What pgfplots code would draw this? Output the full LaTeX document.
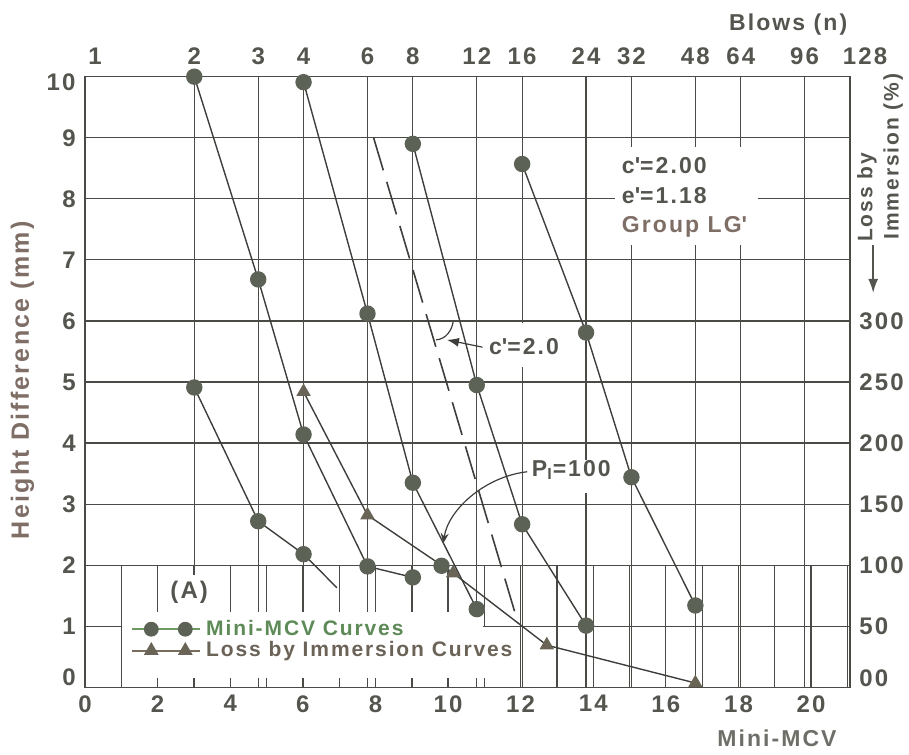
\documentclass[border=0pt]{standalone}
\usepackage{fontspec}
\setmainfont{Liberation Sans}[LetterSpace=9]
\usepackage{pgfplots}
\pgfplotsset{compat=1.18}
\usetikzlibrary{arrows.meta}
\definecolor{gridc}{HTML}{4A4A46}
\definecolor{linec}{HTML}{3E3E3B}
\definecolor{circc}{HTML}{5C6356}
\definecolor{tric}{HTML}{6A6457}
\definecolor{txtc}{HTML}{55554F}
\definecolor{brownc}{HTML}{7E6E66}
\definecolor{greent}{HTML}{5E8A58}
\definecolor{greenl}{HTML}{6E9A62}
\definecolor{legbrown}{HTML}{6B6358}
\definecolor{legline}{HTML}{7A6C5C}
\newcommand\fs[1]{\fontsize{#1}{#1}\selectfont\bfseries}
\begin{document}
\begin{tikzpicture}
\begin{axis}[name=ax,
  scale only axis, width=382.5pt, height=305.3pt,
  xmin=0, xmax=21.0721, ymin=0, ymax=10,
  axis line style={draw=gridc, line width=0.6pt},
  xtick={0,2,...,20}, ytick={0,1,...,10},
  yticklabels={\raisebox{5pt}[\height][0pt]{0},1,2,3,4,5,6,7,8,9,\raisebox{-2.5pt}[\height][0pt]{10}},
  major tick length=0pt,
  /pgf/number format/assume math mode=true,
  tick label style={font=\fs{12}, text=txtc},
  xticklabel style={inner sep=0pt, yshift=-3.85pt},
  yticklabel style={inner sep=0pt, xshift=-4.5pt},
  clip=false,
  legend style={at={(axis cs:1.267,1.107)}, anchor=north west, draw=none, fill=none,
    inner sep=0pt, font=\fs{10.5}, row sep=1.6pt, nodes={inner sep=0pt},
    /tikz/every odd column/.style={column sep=2.5pt}},
  legend cell align=left,
  legend image code/.code={\draw[#1,mark=none] (0pt,0pt) -- (34pt,0pt);
     \path[#1] plot coordinates {(9.5pt,0pt) (26.5pt,0pt)};},
]
% grid lines
\pgfplotsinvokeforeach{1,...,9}{\draw[gridc,line width=0.6pt] (axis cs:0,#1) -- (axis cs:21.0721,#1);}
\pgfplotsinvokeforeach{3.0103,4.7712,6.0206,7.7815,9.0309,10.7918,12.0412,13.8021,15.0515,16.8124,18.0618,19.8227}{\draw[gridc,line width=0.6pt] (axis cs:#1,0) -- (axis cs:#1,10);}
\pgfplotsinvokeforeach{1,...,21}{\draw[gridc,line width=0.6pt] (axis cs:#1,0) -- (axis cs:#1,2);}
% masks
\fill[white] (axis cs:1.03,0.15) rectangle (axis cs:10.96,1.23);
\fill[white] (axis cs:10.9,0.15) rectangle (axis cs:11.6,0.98);
\fill[white] (axis cs:2.2,1.23) rectangle (axis cs:3.5,1.84);
\fill[white] (axis cs:14.6,7.25) rectangle (axis cs:18.55,8.85);
\fill[white] (axis cs:11.1,5.25) rectangle (axis cs:13.3,5.97);
\fill[white] (axis cs:12.3,3.18) rectangle (axis cs:14.6,3.72);
% legend images
\addlegendimage{color=greenl, line width=0.9pt, mark=*, mark size=3.25pt, mark options={fill=circc, draw=circc}}
\addlegendentry{\textcolor{greent}{Mini-MCV Curves}}
\addlegendimage{color=legline, line width=0.9pt, mark=triangle*, mark size=3.4pt, mark options={fill=tric, draw=tric}}
\addlegendentry{\textcolor{legbrown}{Loss by Immersion Curves}}
% dashed reference line c'=2.0
\addplot[linec, line width=0.8pt, dash pattern=on 17pt off 6pt, forget plot] coordinates {(7.95,9.0) (11.93,1.05)};
% loss by immersion curve
\addplot[linec, line width=0.7pt, mark=triangle*, mark size=3.5pt, mark options={fill=tric, draw=tric, solid}, forget plot]
  coordinates {(6.0206,4.84) (7.7815,2.82) (10.14,1.87) (12.72,0.69) (16.8124,0.07)};
% mini-MCV curves
\pgfplotsset{mcv/.style={linec, line width=0.7pt, mark=*, mark size=3.75pt, mark options={fill=circc, draw=circc}, forget plot}}
\addplot[mcv] coordinates {(3.0103,10) (4.7712,6.68) (6.0206,4.14) (7.7815,1.98) (9.0309,1.80)};
\addplot[mcv, mark indices={1,2,3}] coordinates {(3.0103,4.91) (4.7712,2.72) (6.0206,2.18) (6.94,1.63)};
\addplot[mcv] coordinates {(6.0206,9.91) (7.7815,6.12) (9.0309,3.35) (10.7918,1.28)};
\addplot[mcv] coordinates {(9.0309,8.90) (10.7918,4.95) (12.0412,2.67) (13.8021,1.01)};
\addplot[mcv] coordinates {(12.0412,8.57) (13.8021,5.81) (15.0515,3.44) (16.8124,1.34)};
\addplot[mcv, only marks] coordinates {(9.82,1.99)};
% annotations
\node[anchor=center, font=\fs{12}, text=txtc] at (axis cs:2.87,1.56) {(A)};
\node[anchor=west, inner sep=0pt, font=\fs{11.5}, text=txtc] at (axis cs:14.78,8.55) {c\textquotesingle=2.00};
\node[anchor=west, inner sep=0pt, font=\fs{11.5}, text=txtc] at (axis cs:14.78,8.06) {e\textquotesingle=1.18};
\node[anchor=west, inner sep=0pt, font=\fs{11.5}, text=brownc] at (axis cs:14.78,7.54) {Group LG\textquotesingle};
\node[anchor=west, inner sep=0pt, font=\fs{11.5}, text=txtc] at (axis cs:11.12,5.58) {c\textquotesingle=2.0};
\node[anchor=west, inner sep=0pt, font=\fs{11.5}, text=txtc] at (axis cs:12.3,3.56) {P\textsubscript{I}=100};
\draw[linec, line width=0.6pt, -{Latex[length=6pt,width=4.5pt]}] (axis cs:10.95,5.57) -- (axis cs:9.97,5.69);
\draw[linec, line width=0.6pt] (axis cs:9.67,5.69) .. controls (axis cs:9.95,5.7) and (axis cs:10.1,5.85) .. (axis cs:10.14,5.98);
\draw[linec, line width=0.6pt, -{Stealth[length=5pt,width=4pt]}] (axis cs:12.18,3.53) .. controls (axis cs:11.0,3.45) and (axis cs:10.0,2.9) .. (axis cs:9.87,2.36);
% axis labels
\node[rotate=90, font=\fs{12.5}, text=brownc] at (axis cs:-1.72,5.03) {Height Difference (mm)};
\node[font=\fs{11.5}, text=txtc] at (axis cs:19.37,10.86) {Blows (n)};
\node[font=\fs{11.5}, text=txtc!85] at (axis cs:19.06,-0.83) {Mini-MCV};
\node[rotate=90, anchor=west, inner sep=0pt, font=\fs{10.5}, text=txtc] at (axis cs:21.54,7.29) {Loss by};
\node[rotate=90, anchor=west, inner sep=0pt, font=\fs{10.5}, text=txtc] at (axis cs:22.26,7.33) {Immersion (\%)};
\draw[txtc, line width=0.8pt, -{Latex[length=7pt,width=5pt]}] (axis cs:21.71,7.24) -- (axis cs:21.71,6.46);
\end{axis}
\begin{axis}[
  scale only axis, width=382.5pt, height=305.3pt,
  at={(ax.south west)}, anchor=south west,
  xmin=0, xmax=21.0721, ymin=0, ymax=500,
  axis x line*=top, axis y line*=right,
  axis line style={draw=none},
  major tick length=0pt,
  xtick={0,3.0103,4.7712,6.0206,7.7815,9.0309,10.7918,12.0412,13.8021,15.0515,16.8124,18.0618,19.8227,21.0721},
  xticklabels={\hspace*{10pt}1,2,3,4,6,8,12,16,24,32,48,64,96,\hspace*{15pt}128},
  ytick={0,50,...,300},
  yticklabels={\raisebox{4.5pt}[\height][0pt]{00},50,100,150,200,250,300},
  tick label style={font=\fs{12}, text=txtc},
  xticklabel style={inner sep=0pt, yshift=5.85pt},
  yticklabel style={inner sep=0pt, xshift=4.5pt},
]
\addplot[draw=none, forget plot] coordinates {(0,0)};
\end{axis}
\path ([xshift=-42.5pt,yshift=-33.35pt]ax.south west) rectangle ([xshift=29.5pt,yshift=38.35pt]ax.north east);
\end{tikzpicture}
\end{document}
